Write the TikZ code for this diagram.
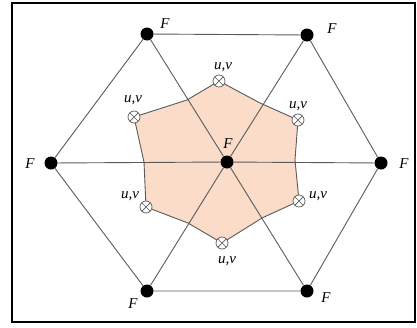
\documentclass[tikz,border=0pt]{standalone}
\usepackage{fontspec}
\setmainfont{Liberation Serif}
\usetikzlibrary{backgrounds}
\definecolor{linegray}{HTML}{5A5A5A}
\definecolor{peach}{HTML}{FADCC8}
\tikzstyle{fnode}=[circle,fill=black,inner sep=0pt,minimum size=13pt]
\tikzstyle{uvnode}=[circle,draw=linegray,fill=white,inner sep=0pt,
  minimum size=12pt,line width=0.7pt,
  path picture={\draw[linegray,line width=0.7pt]
    (path picture bounding box.south west) -- (path picture bounding box.north east)
    (path picture bounding box.north west) -- (path picture bounding box.south east);}]
\tikzstyle{lbl}=[font=\fontsize{15}{16}\selectfont\itshape,inner sep=0pt]
\tikzstyle{edge}=[draw=linegray,line width=0.9pt]

\begin{document}
\begin{tikzpicture}[x=1pt,y=-1pt]
  \useasboundingbox (0,0) rectangle (417,327);
  \draw[line width=1.6pt] (12,3) rectangle (415,322);
  % force points
  \node[fnode] (tl) at (147,34) {};
  \node[fnode] (tr) at (307,35) {};
  \node[fnode] (l) at (51,163) {};
  \node[fnode] (c) at (227,162) {};
  \node[fnode] (r) at (381,163) {};
  \node[fnode] (bl) at (147,291) {};
  \node[fnode] (br) at (307,291) {};
  % u,v points
  \node[uvnode] (uvt) at (219,81) {};
  \node[uvnode] (uvul) at (134,117) {};
  \node[uvnode] (uvur) at (298,120) {};
  \node[uvnode] (uvll) at (146,207) {};
  \node[uvnode] (uvlr) at (299,201) {};
  \node[uvnode] (uvb) at (222,243) {};
  \coordinate (m1) at (260,103);
  \coordinate (m2) at (295,160);
  \coordinate (m3) at (262,218);
  \coordinate (m4) at (188,223);
  \coordinate (m5) at (144,162);
  \coordinate (m6) at (187,100);
  \begin{scope}[on background layer]
    \draw[edge,fill=peach] (uvt.center) -- (m1) -- (uvur.center) -- (m2)
      -- (uvlr.center) -- (m3) -- (uvb.center) -- (m4) -- (uvll.center)
      -- (m5) -- (uvul.center) -- (m6) -- cycle;
    \draw[edge] (tl) -- (tr) -- (r) -- (br) -- (bl) -- (l) -- (tl);
    \draw[edge] (tl) -- (c) -- (br);
    \draw[edge] (tr) -- (c) -- (bl);
    \draw[edge] (l) -- (c) -- (r);
  \end{scope}
  % labels
  \node[lbl] (ftl) at (165,24) {F};
  \node[lbl] (ftr) at (332,29) {F};
  \node[lbl] (fl) at (30,164) {F};
  \node[lbl] (fc) at (228,144) {F};
  \node[lbl] (fr) at (404,164) {F};
  \node[lbl] (fbl) at (133,304) {F};
  \node[lbl] (fbr) at (326,298) {F};
  \node[lbl] (luvt) at (223,67) {u,v};
  \node[lbl] (luvul) at (133,100) {u,v};
  \node[lbl] (luvur) at (298,106) {u,v};
  \node[lbl] (luvll) at (130,196) {u,v};
  \node[lbl] (luvlr) at (318,196) {u,v};
  \node[lbl] (luvb) at (227,261) {u,v};
\end{tikzpicture}
\end{document}
